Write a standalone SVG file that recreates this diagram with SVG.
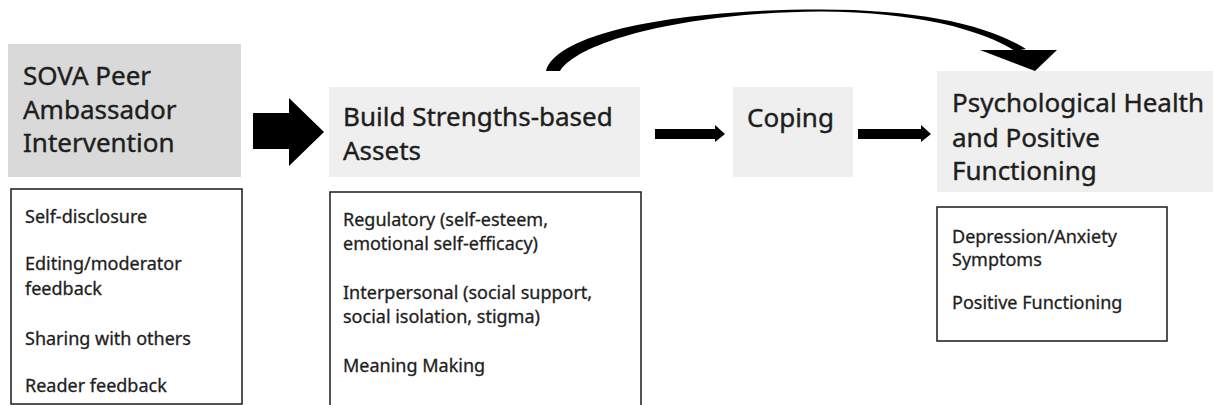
<svg xmlns="http://www.w3.org/2000/svg" width="1213" height="405" viewBox="0 0 1213 405">
<style>
  .bg { fill: #ffffff; }
  .hdr { fill: #efefef; }
  .hdr-dark { fill: #d9d9d9; }
  .list { fill: #ffffff; stroke: #1a1a1a; stroke-width: 1.5; }
  .h { font-family: "Noto Sans", "Open Sans", sans-serif; font-size: 26px; fill: #1e1e1e; stroke: #1e1e1e; stroke-width: 0.4; }
  .b { font-family: "Noto Sans", "Open Sans", sans-serif; font-size: 18px; fill: #1e1e1e; stroke: #1e1e1e; stroke-width: 0.3; }
  .arrow { fill: #000000; }
</style>
<rect class="bg" x="0" y="0" width="1213" height="405"/>

<g id="node-sova">
  <rect class="hdr-dark" x="8" y="44" width="233" height="133"/>
  <text class="h" x="23" y="85">SOVA Peer</text>
  <text class="h" x="23" y="119">Ambassador</text>
  <text class="h" x="23" y="152">Intervention</text>
</g>

<g id="node-sova-list">
  <rect class="list" x="11" y="189" width="231" height="215"/>
  <text class="b" x="25" y="223">Self-disclosure</text>
  <text class="b" x="25" y="270">Editing/moderator</text>
  <text class="b" x="25" y="295">feedback</text>
  <text class="b" x="25" y="345">Sharing with others</text>
  <text class="b" x="25" y="392">Reader feedback</text>
</g>

<g id="node-build">
  <rect class="hdr" x="329" y="87" width="311" height="90"/>
  <text class="h" x="343" y="126">Build Strengths-based</text>
  <text class="h" x="343" y="160">Assets</text>
</g>

<g id="node-build-list">
  <rect class="list" x="330" y="192" width="311" height="230"/>
  <text class="b" x="343" y="226">Regulatory (self-esteem,</text>
  <text class="b" x="343" y="250">emotional self-efficacy)</text>
  <text class="b" x="343" y="299">Interpersonal (social support,</text>
  <text class="b" x="343" y="323">social isolation, stigma)</text>
  <text class="b" x="343" y="372">Meaning Making</text>
</g>

<g id="node-coping">
  <rect class="hdr" x="733" y="87" width="120" height="90"/>
  <text class="h" x="747" y="127">Coping</text>
</g>

<g id="node-psych">
  <rect class="hdr" x="937" y="71" width="276" height="121"/>
  <text class="h" x="952" y="112">Psychological Health</text>
  <text class="h" x="952" y="147">and Positive</text>
  <text class="h" x="952" y="180">Functioning</text>
</g>

<g id="node-psych-list">
  <rect class="list" x="937" y="207" width="230" height="134"/>
  <text class="b" x="952" y="243">Depression/Anxiety</text>
  <text class="b" x="952" y="266">Symptoms</text>
  <text class="b" x="952" y="309">Positive Functioning</text>
</g>

<g id="connectors">
  <polygon class="arrow" points="253,113 289,113 289,98 324,132 289,166 289,149 253,149"/>
  <polygon class="arrow" points="655,129 715,129 715,125 725,134 715,142 715,139 655,139"/>
  <polygon class="arrow" points="858,129 921,129 921,125 931,134 921,142 921,139 858,139"/>
  <path class="arrow" d="M546,71 C556,33 676,9.5 820,9.5 C920,9.5 988,25 1026,49 L1015,51 C982,30 918,12 820,11.5 C690,12.5 580,40 560,71 Z"/>
  <polygon class="arrow" points="980,50 1057,50 1035,71"/>
</g>
</svg>
